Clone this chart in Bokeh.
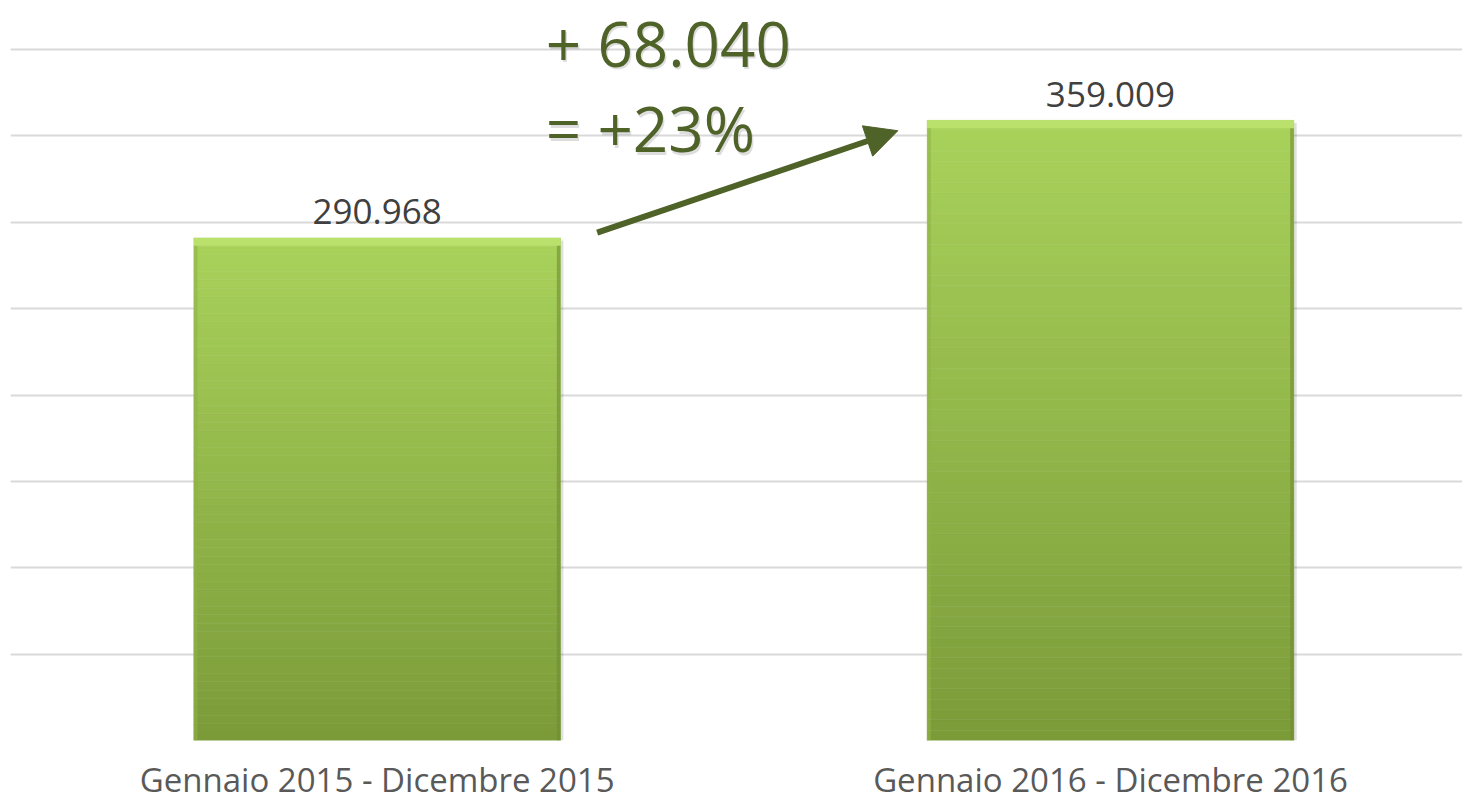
from bokeh.plotting import figure
from bokeh.models import Range1d, FixedTicker, ColumnDataSource, Label, Arrow, NormalHead
from bokeh.core.properties import value
from bokeh.embed import file_html
from bokeh.resources import INLINE

# ---- data ----
categories = ["Gennaio 2015 - Dicembre 2015", "Gennaio 2016 - Dicembre 2016"]
values = [290968, 359009]
value_labels = ["290.968", "359.009"]
diff_label = "+ 68.040"
pct_label = "= +23%"
y_ticks = [0, 50000, 100000, 150000, 200000, 250000, 300000, 350000, 400000]

FONT = "Open Sans"
xs = [i + 0.5 for i in range(len(categories))]

p = figure(width=1462, height=804, output_backend="svg", toolbar_location=None,
           x_range=Range1d(0, 1.98), y_range=Range1d(0, 428400),
           y_axis_location=None, min_border_left=10, min_border_right=0,
           min_border_top=0, min_border_bottom=64)
p.outline_line_color = None
p.background_fill_color = "white"
p.border_fill_color = "white"

# grid
p.xgrid.visible = False
p.ygrid.ticker = FixedTicker(ticks=y_ticks)
p.ygrid.grid_line_color = "#d9d9d9"
p.ygrid.grid_line_width = 2

# x axis
ax = p.xaxis[0]
ax.ticker = FixedTicker(ticks=xs)
ax.major_label_overrides = {x: c for x, c in zip(xs, categories)}
ax.axis_line_color = None
ax.major_tick_line_color = None
ax.minor_tick_line_color = None
ax.major_tick_out = 0
ax.major_tick_in = 0
ax.major_label_text_font = FONT
ax.major_label_text_font_size = "33px"
ax.major_label_text_color = "#595959"
ax.major_label_standoff = 16

# bars with vertical gradient (slices derived from each bar's value)
def lerp(c1, c2, t):
    a = [int(c1[i:i + 2], 16) for i in (1, 3, 5)]
    b = [int(c2[i:i + 2], 16) for i in (1, 3, 5)]
    return "#%02x%02x%02x" % tuple(round(a[k] + (b[k] - a[k]) * t) for k in range(3))

top_c, bot_c = "#a9d25b", "#7b9b39"
n = 60
sx, sb, st, sc = [], [], [], []
for x, v in zip(xs, values):
    for i in range(n):
        sx.append(x)
        sb.append(v * i / n)
        st.append(v * (i + 1) / n)
        sc.append(lerp(bot_c, top_c, (i + 0.5) / n))
# soft shadow
p.vbar(x=[x + 0.004 for x in xs], bottom=[-1500] * len(xs), top=[v - 1500 for v in values],
       width=0.5, fill_color="#000000", fill_alpha=0.12, line_color=None)
p.vbar(x=sx, bottom=sb, top=st, width=0.5, fill_color=sc, line_color=sc, line_width=0.5)
# bevel highlight on top, darker edges
p.vbar(x=xs, bottom=[v - 4500 for v in values], top=values, width=0.5,
       fill_color="#bde26f", line_color=None, fill_alpha=0.9)
p.vbar(x=[x + 0.2475 for x in xs], bottom=[0] * len(xs), top=[v - 4500 for v in values], width=0.005,
       fill_color="#6f8c32", line_color=None, fill_alpha=0.6)
p.vbar(x=[x - 0.2475 for x in xs], bottom=[0] * len(xs), top=[v - 4500 for v in values], width=0.005,
       fill_color="#8fb348", line_color=None, fill_alpha=0.6)

# value labels
src = ColumnDataSource(dict(x=xs, y=values, t=value_labels))
p.text(x="x", y="y", text="t", source=src, text_align="center", text_baseline="alphabetic",
       y_offset=-26, text_font=value(FONT), text_font_size="35px", text_color="#404040")

# annotation: difference and percentage
tx = xs[0] + 0.23
for txt, yy in [(diff_label, 404000), (pct_label, 354500)]:
    p.add_layout(Label(x=tx, y=yy, text=txt, text_font=FONT, text_font_size="62px",
                       text_color="#000000", text_alpha=0.13, text_baseline="middle",
                       text_line_height=0.9, x_offset=1.5, y_offset=-2.5))
    p.add_layout(Label(x=tx, y=yy, text=txt, text_font=FONT, text_font_size="62px",
                       text_color="#4f6228", text_baseline="middle", text_line_height=0.9))

p.add_layout(Arrow(x_start=xs[0] + 0.3, y_start=values[0] + 3000,
                   x_end=xs[1] - 0.29, y_end=values[1] - 6000,
                   line_color="#4f6228", line_width=6,
                   end=NormalHead(size=32, fill_color="#4f6228", line_color="#4f6228")))

open("out.html", "w").write(file_html(p, INLINE))
